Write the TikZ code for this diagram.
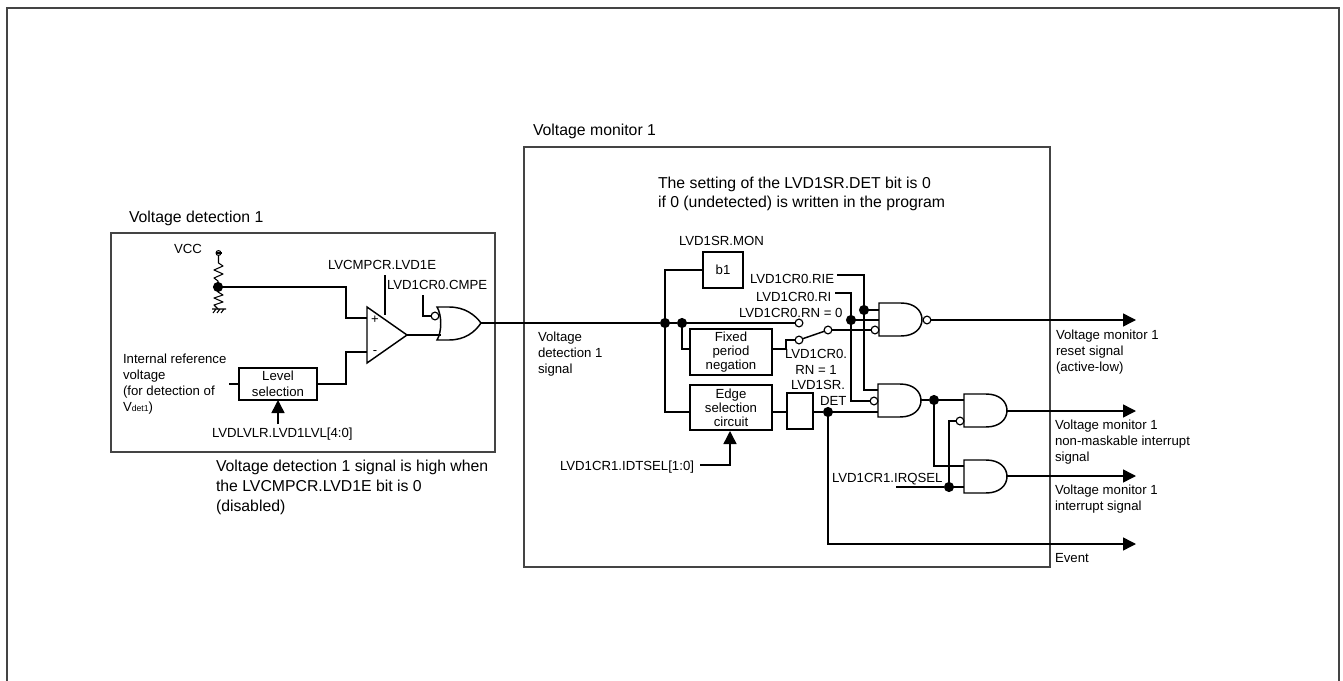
\documentclass[tikz,border=0pt]{standalone}
\usepackage{fontspec}
\setmainfont{Liberation Sans}
\usetikzlibrary{arrows.meta}
\definecolor{framegray}{HTML}{444444}
\tikzset{
  lbl/.style={inner sep=0pt,outer sep=0pt,anchor=base west,align=left,font=\fontsize{9.9}{12}\selectfont},
  ttl/.style={inner sep=0pt,outer sep=0pt,anchor=base west,align=left,font=\fontsize{11.85}{14.8}\selectfont},
  wire/.style={draw=black,line width=1.1pt,line join=miter},
  sig/.style={wire,-{Triangle[length=9.75pt,width=9.75pt]}},
  thin wire/.style={draw=black,line width=.8pt},
  blk/.style={draw=black,line width=1.2pt,fill=white,inner sep=0pt,outer sep=0pt,align=center,font=\fontsize{9.9}{10.4}\selectfont},
  junction/.style={circle,fill=black,inner sep=0pt,outer sep=0pt,minimum size=7.6pt},
  bubble/.style={circle,draw=black,line width=.9pt,fill=white,inner sep=0pt,outer sep=0pt,minimum size=5.8pt},
  andg/.pic={\draw[wire,fill=white] (0,0) -- (22,0) .. controls (36,0) and (43,8) .. (43,16.5) .. controls (43,25) and (36,33) .. (22,33) -- (0,33) -- cycle;},
  org/.pic={\draw[wire,fill=white] (0,0) -- (12,0) .. controls (28,0) and (38,8) .. (44,16) .. controls (38,25) and (28,33) .. (12,33) -- (0,33) .. controls (5,25) and (5,8) .. (0,0) -- cycle;},
}
\begin{document}
\begin{tikzpicture}[x=0.75pt,y=-0.75pt]
\useasboundingbox (0,0) rectangle (1343,681);
% frames
\draw[framegray,line width=1.2pt] (7,681) -- (7,8) -- (1339,8) -- (1339,681);
\draw[framegray,line width=.85pt] (111,233) rectangle (495,452);
\draw[framegray,line width=.85pt] (524,147) rectangle (1050,567);
% boxes
\node[blk,font=\fontsize{9.9}{12}\selectfont,minimum width=58.5pt,minimum height=24pt] (lvl) at (278,384) {Level\\selection};
\node[blk,minimum width=30pt,minimum height=27pt] (b1) at (723,270) {b1};
\node[blk,minimum width=61.5pt,minimum height=34.5pt] (fix) at (731,352) {Fixed\\period\\negation};
\node[blk,minimum width=61.5pt,minimum height=33.75pt] (edge) at (731,407.5) {Edge\\selection\\circuit};
\node[blk,minimum width=19.5pt,minimum height=27pt] (ff) at (800,411) {};
% titles and texts
\node[ttl] (tVD) at (129,223) {Voltage detection 1};
\node[ttl] (tVM) at (533,136) {Voltage monitor 1};
\node[ttl] (tSet) at (658,208) {The setting of the LVD1SR.DET bit is 0\\if 0 (undetected) is written in the program};
\node[ttl] (tHigh) at (216,511) {Voltage detection 1 signal is high when\\the LVCMPCR.LVD1E bit is 0\\(disabled)};
\node[lbl] (tVCC) at (174,253) {VCC};
\node[lbl] (tE) at (328,270) {LVCMPCR.LVD1E};
\node[lbl] (tCMPE) at (387,290) {LVD1CR0.CMPE};
\node[lbl] (tRef) at (123,411) {Internal reference\\voltage\\(for detection of\\V{\fontsize{6.5}{8}\selectfont det1})};
\node[lbl] (tLvl) at (212,437) {LVDLVLR.LVD1LVL[4:0]};
\node[lbl] (tSig) at (538,373) {Voltage\\detection 1\\signal};
\node[lbl] (tMon) at (679,246) {LVD1SR.MON};
\node[lbl] (tRIE) at (750,283) {LVD1CR0.RIE};
\node[lbl] (tRI) at (756,301) {LVD1CR0.RI};
\node[lbl] (tRN0) at (739,317) {LVD1CR0.RN = 0};
\node[lbl,align=center] (tRN1) at (785,374) {LVD1CR0.\\RN = 1};
\node[lbl] (tDet) at (791,405) {LVD1SR.\\\hspace*{21.75pt}DET};
\node[lbl] (tIrq) at (832,482) {LVD1CR1.IRQSEL};
\node[lbl] (tIdt) at (560,470) {LVD1CR1.IDTSEL[1:0]};
\node[lbl] (oR) at (1056,371) {Voltage monitor 1\\reset signal\\(active-low)};
\node[lbl] (oN) at (1055,461) {Voltage monitor 1\\non-maskable interrupt\\signal};
\node[lbl] (oI) at (1055,510) {Voltage monitor 1\\interrupt signal};
\node[lbl] (oE) at (1055,562) {Event};
% gates
\path (879,303) pic {andg};
\path (878,384) pic {andg};
\path (964,394) pic {andg};
\path (964,460) pic {andg};
\path (437,307) pic {org};
\draw[wire,fill=white] (367,307) -- (407,335) -- (367,363) -- cycle;
\node[inner sep=0pt,font=\fontsize{9.75}{12}\selectfont] (plus) at (375,320) {+};
\node[inner sep=0pt,font=\fontsize{9.75}{12}\selectfont] (minus) at (375,353) {-};
% bubbles
\node[bubble] (bCMPE) at (435,316) {};
\node[bubble] (nOut) at (927,320) {};
\node[bubble] (nIn) at (875,330) {};
\node[bubble] (aIn) at (874,401) {};
\node[bubble] (qIn) at (960,421) {};
\node[bubble] (c0) at (799,323) {};
\node[bubble] (c1) at (799,340) {};
\node[bubble] (c2) at (828,330) {};
% junctions
\node[junction] (jV) at (218,287) {};
\node[junction] (j1) at (665,323) {};
\node[junction] (j2) at (682,323) {};
\node[junction] (jRIE) at (864,310) {};
\node[junction] (jRI) at (851,320) {};
\node[junction] (jDet) at (828,412) {};
\node[junction] (jA) at (934,400) {};
\node[junction] (jQ) at (949,487) {};
% pins
\coordinate (vcc) at (218.5,253);
\coordinate (gnd) at (218,309);
\coordinate (cmpP) at (367,318);
\coordinate (cmpM) at (367,352);
\coordinate (cmpO) at (407,335);
\coordinate (cmpS) at (385,315);
\coordinate (eTop) at (385,275);
\coordinate (orI) at (441,335);
\coordinate (orO) at (481,323);
\coordinate (cmpeTop) at (423,295);
\coordinate (refEnd) at (229,384);
\coordinate (lvlIn) at (278,424);
\coordinate (idtS) at (700,465);
\coordinate (rieS) at (837,275);
\coordinate (riS) at (835,293);
\coordinate (fixW) at (690,349);
\coordinate (fixE) at (772,349);
\coordinate (edgeW) at (690,412);
\coordinate (edgeE) at (772,412);
\coordinate (edgeS) at (730,431);
\coordinate (ffW) at (787,412);
\coordinate (ffE) at (813,412);
\coordinate (a1) at (878,390);
\coordinate (a3) at (878,412);
\coordinate (aO) at (921,400);
\coordinate (q1) at (964,400);
\coordinate (qO) at (1007,411);
\coordinate (m1) at (964,466);
\coordinate (m2) at (964,487);
\coordinate (mO) at (1007,476);
\coordinate (irqS) at (896,487);
\coordinate (n1) at (879,310);
\coordinate (n2) at (879,320);
\coordinate (endR) at (1136,320);
\coordinate (endN) at (1136,411);
\coordinate (endI) at (1136,476);
\coordinate (endE) at (1136,544);
% Voltage divider
\draw[thin wire] (vcc) circle[radius=2.4];
\draw[thin wire] (215.5,253) -- (221.5,253);
\draw[thin wire,line join=round] (218.5,256) -- (218.5,263) -- (223,266) -- (214,270) -- (223,274) -- (214,278) -- (218,281) -- (jV);
\draw[thin wire,line join=round] (jV) -- (218,292) -- (223,295) -- (214,298) -- (223,302) -- (214,305) -- (gnd);
\draw[thin wire] (212,309) -- (226,309) (213,313) -- (216,309) (217,313) -- (220,309) (221,313) -- (224,309);
% Wires, left
\draw[wire] (jV) -- (346,287) -- (346,318) -- (cmpP);
\draw[wire] (lvl.east) -- (346,384) -- (346,352) -- (cmpM);
\draw[wire] (refEnd) -- (lvl.west);
\draw[sig] (lvlIn) -- (lvl.south);
\draw[wire] (eTop) -- (cmpS);
\draw[wire] (cmpeTop) -- (423,316) -- (bCMPE);
\draw[wire] (cmpO) -- (orI);
\draw[wire] (orO) -- (j1);
% Wires, monitor
\draw[wire] (j1) -- (j2) -- (c0);
\draw[wire] (j1) |- (b1.west);
\draw[wire] (j1) |- (edgeW);
\draw[wire] (j2) |- (fixW);
\draw[wire] (fixE) -- (786,349) -- (786,340) -- (c1);
\draw[wire] (c1) -- (c2);
\draw[wire] (c2) -- (nIn);
\draw[wire] (rieS) -- (864,275) -- (jRIE) -- (864,390) -- (a1);
\draw[wire] (riS) -- (851,293) -- (jRI) -- (851,401) -- (aIn);
\draw[wire] (jRIE) -- (n1);
\draw[wire] (jRI) -- (n2);
\draw[wire] (edgeE) -- (ffW);
\draw[wire] (ffE) -- (jDet) -- (a3);
\draw[wire] (aO) -- (jA) -- (q1);
\draw[wire] (jA) -- (934,466) -- (m1);
\draw[wire] (irqS) -- (jQ) -- (m2);
\draw[wire] (jQ) -- (949,421) -- (qIn);
\draw[sig] (nOut) -- (endR);
\draw[sig] (qO) -- (endN);
\draw[sig] (mO) -- (endI);
\draw[sig] (jDet) |- (endE);
\draw[sig] (idtS) -- (730,465) -- (edgeS);
\end{tikzpicture}
\end{document}
